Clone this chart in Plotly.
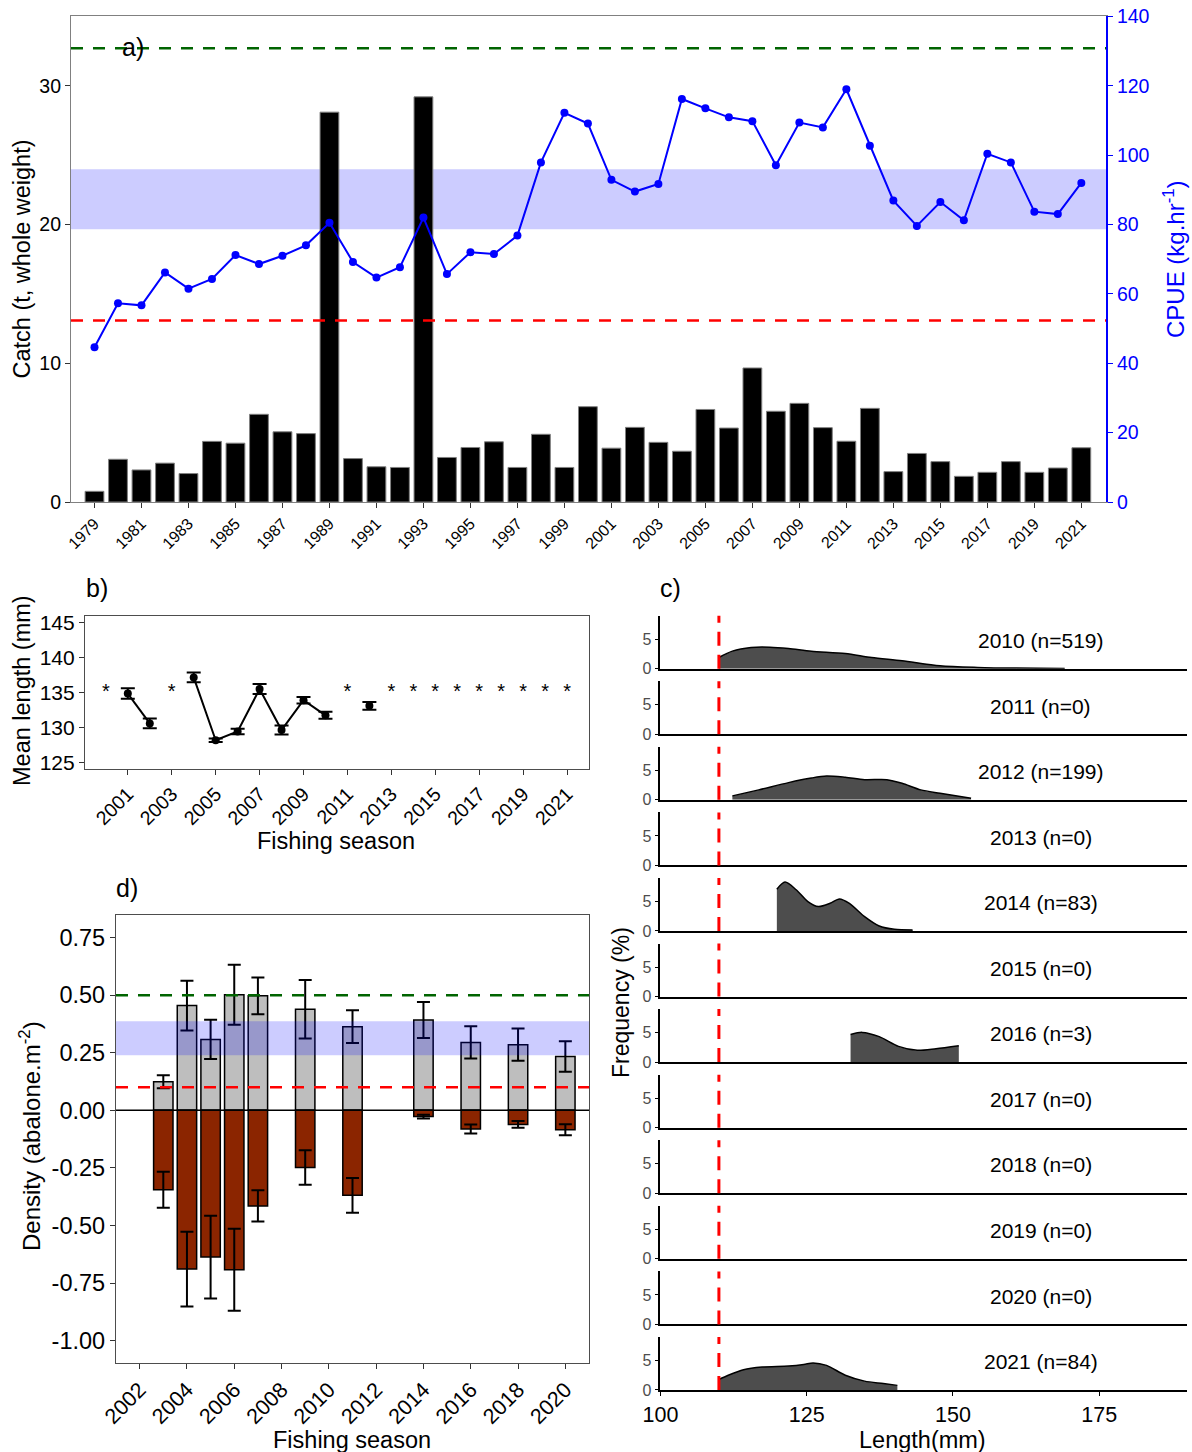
import plotly.graph_objects as go

W, H = 1192, 1452
FONT = "Liberation Sans, Arial, sans-serif"

# ---------------- Panel a: catch and CPUE ----------------
YEARS_A = list(range(1979, 2022))
CATCH = [0.77, 3.08, 2.31, 2.80, 2.05, 4.37, 4.24, 6.32, 5.06, 4.93,
         28.1, 3.13, 2.54, 2.49, 29.2, 3.21, 3.93, 4.34, 2.49, 4.88,
         2.49, 6.87, 3.88, 5.38, 4.30, 3.66, 6.67, 5.33, 9.66, 6.54,
         7.11, 5.36, 4.38, 6.75, 2.19, 3.50, 2.91, 1.85, 2.14, 2.91,
         2.14, 2.45, 3.91]
CPUE = [44.6, 57.3, 56.7, 66.2, 61.5, 64.3, 71.2, 68.6, 71.0, 74.0,
        80.5, 69.2, 64.7, 67.7, 82.0, 65.7, 72.0, 71.5, 76.8, 97.9,
        112.2, 109.1, 92.9, 89.5, 91.7, 116.2, 113.5, 110.9, 109.8, 97.1,
        109.4, 108.0, 119.0, 102.7, 86.9, 79.6, 86.5, 81.2, 100.4, 97.9,
        83.7, 83.0, 92.0]
CPUE_TARGET = 130.8
CPUE_LIMIT = 52.3
CPUE_BAND = [78.6, 95.9]
TICKS_A = list(range(1979, 2022, 2))

# ---------------- Panel b: mean length ----------------
YEARS_B = list(range(2000, 2022))
MEAN_LEN = [None, 134.85, 130.6, None, 137.15, 128.2, 129.45, 135.5, 129.65, 133.9,
            131.75, None, 133.1, None, None, None, None, None, None, None, None, None]
SE_LEN = [None, 0.75, 0.7, None, 0.7, 0.25, 0.4, 0.7, 0.65, 0.45,
          0.5, None, 0.55, None, None, None, None, None, None, None, None, None]
STAR_YEARS = [2000, 2003, 2011, 2013, 2014, 2015, 2016, 2017, 2018, 2019, 2020, 2021]
STAR_LEVEL = 135
TICKS_B = list(range(2001, 2022, 2))

# ---------------- Panel d: density ----------------
YEARS_D = [2003, 2004, 2005, 2006, 2007, 2009, 2011, 2014, 2016, 2018, 2020]
DENS_POS = [0.124, 0.455, 0.308, 0.502, 0.497, 0.439, 0.363, 0.392, 0.295, 0.285, 0.234]
DENS_POS_SE = [0.028, 0.108, 0.085, 0.13, 0.08, 0.127, 0.071, 0.078, 0.07, 0.07, 0.066]
DENS_NEG = [-0.345, -0.689, -0.637, -0.692, -0.415, -0.248, -0.369, -0.027, -0.081, -0.061, -0.084]
DENS_NEG_SE = [0.078, 0.162, 0.18, 0.178, 0.068, 0.075, 0.075, 0.008, 0.02, 0.015, 0.024]
DENS_TARGET = 0.5
DENS_LIMIT = 0.1
DENS_BAND = [0.239, 0.387]
TICKS_D = list(range(2002, 2021, 2))
YTICKS_D = [-1.0, -0.75, -0.5, -0.25, 0.0, 0.25, 0.5, 0.75]
YTICKTEXT_D = ["-1.00", "-0.75", "-0.50", "-0.25", "0.00", "0.25", "0.50", "0.75"]

# ---------------- Panel c: length frequency ----------------
FACET_YEARS = [2010, 2011, 2012, 2013, 2014, 2015, 2016, 2017, 2018, 2019, 2020, 2021]
FACET_N = [519, 0, 199, 0, 83, 0, 3, 0, 0, 0, 0, 84]
LEN_2010_X = [110.0, 112.3, 115.5, 118.7, 121.9, 125.8, 131.6, 136.1, 141.3, 147.8, 154.2, 160.7, 169.1]
LEN_2010_Y = [1.9, 2.98, 3.6, 3.65, 3.43, 2.98, 2.58, 1.9, 1.35, 0.5, 0.22, 0.1, 0.05]
LEN_2012_X = [112.3, 116.8, 121.9, 125.8, 128.4, 131.6, 134.9, 138.7, 141.3, 144.5, 147.8, 153.1]
LEN_2012_Y = [0.67, 1.69, 2.92, 3.7, 4.04, 3.82, 3.43, 3.43, 2.81, 1.69, 1.12, 0.28]
LEN_2014_X = [119.9, 121.3, 123.2, 125.2, 127.0, 129.0, 130.6, 132.3, 134.9, 137.4, 140.0, 143.1]
LEN_2014_Y = [7.1, 8.3, 7.0, 5.0, 4.15, 4.7, 5.45, 4.7, 2.44, 0.85, 0.28, 0.17]
LEN_2016_X = [132.5, 134.5, 137.4, 140.7, 143.9, 147.1, 151.0]
LEN_2016_Y = [4.7, 5.05, 4.33, 2.67, 2.0, 2.28, 2.78]
LEN_2021_X = [110.0, 111.6, 114.2, 117.4, 121.9, 124.5, 126.1, 128.4, 131.6, 134.9, 138.1, 140.5]
LEN_2021_Y = [1.78, 2.5, 3.44, 3.89, 4.06, 4.33, 4.6, 4.17, 2.5, 1.5, 1.1, 0.78]
LEN_CURVES = {2010: (LEN_2010_X, LEN_2010_Y), 2012: (LEN_2012_X, LEN_2012_Y),
              2014: (LEN_2014_X, LEN_2014_Y), 2016: (LEN_2016_X, LEN_2016_Y),
              2021: (LEN_2021_X, LEN_2021_Y)}
MIN_LEGAL = 110
TICKS_C = [100, 125, 150, 175]


def px_x(p):
    return p / W


def px_y(p):
    return 1 - p / H


fig = go.Figure()
layout = dict(
    width=W, height=H, autosize=False, margin=dict(l=0, r=0, t=0, b=0, pad=0),
    paper_bgcolor="white", plot_bgcolor="white", showlegend=False,
    barmode="overlay", font=dict(family=FONT, color="black"),
)
shapes = []
annotations = []
AX = dict(showgrid=False, zeroline=False, automargin=False)

# ---------- panel a ----------
fig.add_trace(go.Bar(x=YEARS_A, y=CATCH, width=0.8, marker=dict(color="black", line=dict(color="#808080", width=1)),
                     xaxis="x", yaxis="y"))
fig.add_trace(go.Scatter(x=YEARS_A, y=CPUE, mode="lines+markers", line=dict(color="#0000FF", width=2),
                         marker=dict(color="#0000FF", size=8), xaxis="x", yaxis="y2"))
layout["xaxis"] = dict(domain=[px_x(71), px_x(1106)], anchor="y", range=[1978.0, 2022.05],
                       tickvals=TICKS_A, ticktext=[str(t) for t in TICKS_A], tickangle=-45,
                       ticks="outside", ticklen=5, tickcolor="#333333", tickfont=dict(size=16),
                       showline=True, linecolor="#808080", linewidth=1.2, mirror=True, **AX)
layout["yaxis"] = dict(domain=[px_y(502), px_y(16.4)], anchor="x", range=[0, 35], tickvals=[0, 10, 20, 30],
                       ticks="outside", ticklen=5, tickcolor="#333333", tickfont=dict(size=19.5),
                       showline=True, linecolor="#808080", linewidth=1.2, **AX)
layout["yaxis2"] = dict(overlaying="y", side="right", anchor="x", range=[0, 140],
                        tickvals=list(range(0, 141, 20)), ticks="outside", ticklen=5, tickcolor="#0000FF",
                        tickfont=dict(size=19.5, color="#0000FF"), showline=True, linecolor="#0000FF",
                        linewidth=2, **AX)
shapes.append(dict(type="rect", xref="x domain", yref="y2", x0=0, x1=1, y0=CPUE_BAND[0], y1=CPUE_BAND[1],
                   fillcolor="rgba(0,0,255,0.2)", line=dict(width=0), layer="below"))
shapes.append(dict(type="line", xref="x domain", yref="y2", x0=0, x1=1, y0=CPUE_TARGET, y1=CPUE_TARGET,
                   line=dict(color="#006400", width=2.5, dash="12px,10px"), layer="above"))
shapes.append(dict(type="line", xref="x domain", yref="y2", x0=0, x1=1, y0=CPUE_LIMIT, y1=CPUE_LIMIT,
                   line=dict(color="#FF0000", width=2.5, dash="12px,10px"), layer="above"))

# ---------- panel b ----------
fig.add_trace(go.Scatter(x=YEARS_B, y=MEAN_LEN, mode="lines+markers", line=dict(color="black", width=2),
                         marker=dict(color="black", size=8), connectgaps=False,
                         error_y=dict(type="data", array=SE_LEN, color="black", thickness=2, width=7),
                         xaxis="x3", yaxis="y3"))
fig.add_trace(go.Scatter(x=STAR_YEARS, y=[STAR_LEVEL] * len(STAR_YEARS), mode="text", text=["*"] * len(STAR_YEARS),
                         textfont=dict(size=20, color="black"), xaxis="x3", yaxis="y3"))
layout["xaxis3"] = dict(domain=[px_x(85), px_x(589)], anchor="y3", range=[1999.05, 2022.0],
                        tickvals=TICKS_B, ticktext=[str(t) for t in TICKS_B], tickangle=-45,
                        ticks="outside", ticklen=5, tickcolor="#333333", tickfont=dict(size=19.5),
                        showline=True, linecolor="#4d4d4d", linewidth=1.2, mirror=True, **AX)
layout["yaxis3"] = dict(domain=[px_y(769), px_y(615.7)], anchor="x3", range=[124.1, 145.95],
                        tickvals=[125, 130, 135, 140, 145], ticks="outside", ticklen=5, tickcolor="#333333",
                        tickfont=dict(size=21), showline=True, linecolor="#4d4d4d", linewidth=1.2, mirror=True, **AX)

# ---------- panel d ----------
fig.add_trace(go.Bar(x=YEARS_D, y=DENS_POS, width=0.82, marker=dict(color="#BEBEBE", line=dict(color="black", width=1.5)),
                     error_y=dict(type="data", array=DENS_POS_SE, color="black", thickness=2, width=6.5),
                     xaxis="x4", yaxis="y4"))
fig.add_trace(go.Bar(x=YEARS_D, y=DENS_NEG, width=0.82, marker=dict(color="#8B2500", line=dict(color="black", width=1.5)),
                     error_y=dict(type="data", array=DENS_NEG_SE, color="black", thickness=2, width=6.5),
                     xaxis="x4", yaxis="y4"))
layout["xaxis4"] = dict(domain=[px_x(116), px_x(589)], anchor="y4", range=[2001.0, 2021.0],
                        tickvals=TICKS_D, ticktext=[str(t) for t in TICKS_D], tickangle=-45,
                        ticks="outside", ticklen=5, tickcolor="#333333", tickfont=dict(size=21.5),
                        showline=True, linecolor="#4d4d4d", linewidth=1.2, mirror=True, **AX)
layout["yaxis4"] = dict(domain=[px_y(1362.6), px_y(915)], anchor="x4", range=[-1.095, 0.848],
                        tickvals=YTICKS_D, ticktext=YTICKTEXT_D, ticks="outside", ticklen=5, tickcolor="#333333",
                        tickfont=dict(size=23.5), showline=True, linecolor="#4d4d4d", linewidth=1.2, mirror=True, **AX)
shapes.append(dict(type="line", xref="x4 domain", yref="y4", x0=0, x1=1, y0=0, y1=0,
                   line=dict(color="black", width=1.5), layer="above"))
shapes.append(dict(type="rect", xref="x4 domain", yref="y4", x0=0, x1=1, y0=DENS_BAND[0], y1=DENS_BAND[1],
                   fillcolor="rgba(0,0,255,0.2)", line=dict(width=0), layer="above"))
shapes.append(dict(type="line", xref="x4 domain", yref="y4", x0=0, x1=1, y0=DENS_TARGET, y1=DENS_TARGET,
                   line=dict(color="#006400", width=2.5, dash="12px,10px"), layer="above"))
shapes.append(dict(type="line", xref="x4 domain", yref="y4", x0=0, x1=1, y0=DENS_LIMIT, y1=DENS_LIMIT,
                   line=dict(color="#FF0000", width=2.5, dash="12px,10px"), layer="above"))

# ---------- panel c ----------
ROW0_TOP, ROW_STEP, ROW_H = 615.7, 65.57, 53.0
for i, (yr, n) in enumerate(zip(FACET_YEARS, FACET_N)):
    k = 5 + i
    xa, ya = f"x{k}", f"y{k}"
    top = ROW0_TOP + ROW_STEP * i
    bottom = top + ROW_H
    last = i == len(FACET_YEARS) - 1
    layout[f"xaxis{k}"] = dict(domain=[px_x(660.4), px_x(1187)], anchor=ya, range=[100, 190],
                               tickvals=TICKS_C, ticks="outside" if last else "", ticklen=4, tickcolor="black",
                               showticklabels=last, tickfont=dict(size=21.5),
                               showline=True, linecolor="black", linewidth=1.5, **AX)
    layout[f"yaxis{k}"] = dict(domain=[px_y(bottom), px_y(top)], anchor=xa, range=[0, 9], tickvals=[0, 5],
                               ticks="outside", ticklen=4, tickcolor="black",
                               tickfont=dict(size=16, color="#4D4D4D"), showline=True, linecolor="black",
                               linewidth=1.5, **AX)
    if yr in LEN_CURVES:
        cx, cy = LEN_CURVES[yr]
        fig.add_trace(go.Scatter(x=cx, y=cy, mode="lines", fill="tozeroy", fillcolor="#4D4D4D",
                                 line=dict(color="black", width=1.5, shape="spline", smoothing=0.8),
                                 xaxis=xa, yaxis=ya))
    else:
        fig.add_trace(go.Scatter(x=[MIN_LEGAL], y=[0], mode="lines", xaxis=xa, yaxis=ya))
    shapes.append(dict(type="line", xref=xa, yref=f"{ya} domain", x0=MIN_LEGAL, x1=MIN_LEGAL, y0=0, y1=1,
                       line=dict(color="#FF0000", width=3, dash="14px,9px"), layer="above"))
    annotations.append(dict(xref=xa, yref=ya, x=165, y=4.8, text=f"{yr} (n={n})", showarrow=False,
                            font=dict(size=21, color="black")))


def ann(text, x, y, size, angle=0, color="black"):
    annotations.append(dict(xref="paper", yref="paper", x=px_x(x), y=px_y(y), text=text, showarrow=False,
                            textangle=angle, font=dict(size=size, color=color), xanchor="center", yanchor="middle"))


ann("Catch (t, whole weight)", 22, 259.5, 23.5, -90)
ann("CPUE (kg.hr<sup>-1</sup>)", 1174, 259, 24, -90, "#0000FF")
ann("Mean length (mm)", 22, 691, 23.5, -90)
ann("Fishing season", 336, 841, 23.5)
ann("Density (abalone.m<sup>-2</sup>)", 30, 1136, 24, -90)
ann("Fishing season", 352, 1440, 23.5)
ann("Frequency (%)", 621, 1003, 23, -90)
ann("Length(mm)", 922, 1440, 23.5)
ann("a)", 133, 47, 25)
ann("b)", 97, 588, 25)
ann("c)", 671, 588, 25)
ann("d)", 127, 888, 25)

layout["shapes"] = shapes
layout["annotations"] = annotations
fig.update_layout(**layout)
fig.write_html("out.html", post_script="document.body.style.margin='0px';")
